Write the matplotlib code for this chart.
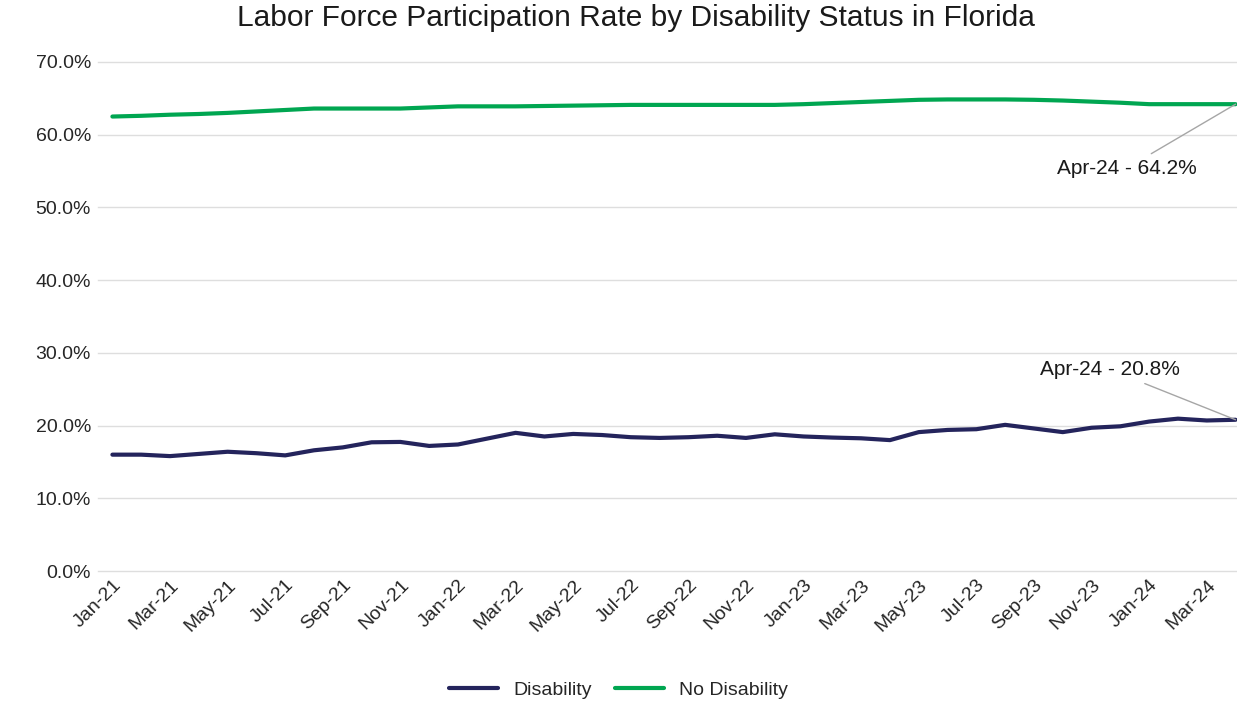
import matplotlib
matplotlib.use("Agg")
import matplotlib.pyplot as plt
from matplotlib.ticker import FuncFormatter, MultipleLocator

months = ["Jan-21","Feb-21","Mar-21","Apr-21","May-21","Jun-21","Jul-21","Aug-21","Sep-21","Oct-21",
          "Nov-21","Dec-21","Jan-22","Feb-22","Mar-22","Apr-22","May-22","Jun-22","Jul-22","Aug-22",
          "Sep-22","Oct-22","Nov-22","Dec-22","Jan-23","Feb-23","Mar-23","Apr-23","May-23","Jun-23",
          "Jul-23","Aug-23","Sep-23","Oct-23","Nov-23","Dec-23","Jan-24","Feb-24","Mar-24","Apr-24"]

disability = [16.0, 16.0, 15.8, 16.1, 16.4, 16.2, 15.9, 16.6, 17.0, 17.7,
              17.75, 17.2, 17.4, 18.2, 19.0, 18.5, 18.85, 18.7, 18.4, 18.3,
              18.4, 18.6, 18.3, 18.8, 18.5, 18.35, 18.25, 18.0, 19.1, 19.4,
              19.5, 20.1, 19.6, 19.1, 19.7, 19.9, 20.55, 20.95, 20.7, 20.8]

no_disability = [62.5, 62.6, 62.75, 62.85, 63.0, 63.2, 63.4, 63.6, 63.6, 63.6,
                 63.6, 63.75, 63.9, 63.9, 63.9, 63.95, 64.0, 64.05, 64.1, 64.1,
                 64.1, 64.1, 64.1, 64.1, 64.2, 64.35, 64.5, 64.65, 64.8, 64.85,
                 64.85, 64.85, 64.8, 64.7, 64.55, 64.4, 64.2, 64.2, 64.2, 64.2]

title = "Labor Force Participation Rate by Disability Status in Florida"
navy = "#24245c"
green = "#00a651"
fam = ["Liberation Sans", "DejaVu Sans"]

fig = plt.figure(figsize=(12.37, 7.04), dpi=100)
ax = fig.add_axes([98/1237, 1 - 571/704, (1237 - 98)/1237, (571 - 62)/704])

x = list(range(len(months)))
ax.plot(x, disability, color=navy, lw=3, label="Disability", solid_capstyle="round", zorder=3)
ax.plot(x, no_disability, color=green, lw=3, label="No Disability", solid_capstyle="round", zorder=3)

ax.set_ylim(0, 70)
ax.set_xlim(-0.5, 39.05)
ax.yaxis.set_major_locator(MultipleLocator(10))
ax.yaxis.set_major_formatter(FuncFormatter(lambda v, p: f"{v:.1f}%"))
ax.grid(axis="y", color="#dedede", lw=1)
for gl in ax.get_ygridlines():
    gl.set_clip_on(False)
ax.set_axisbelow(True)
for s in ax.spines.values():
    s.set_visible(False)
ax.tick_params(axis="both", length=0, labelsize=14, colors="#262626")
ax.tick_params(axis="y", pad=5)
ax.tick_params(axis="x", pad=4)
ax.set_xticks(x[::2])
ax.set_xticklabels(months[::2], rotation=45, ha="right", rotation_mode="anchor")
for lab in ax.get_xticklabels() + ax.get_yticklabels():
    lab.set_fontfamily(fam)

fig.text(636/1237, 1 - 18/704, title, ha="center", va="center", fontsize=21.5,
         family=fam, color="#1a1a1a")

last = len(months) - 1
ann_fam = ["Liberation Sans Narrow", "Liberation Sans", "DejaVu Sans"]
ax.annotate(f"{months[last]} - {no_disability[last]:.1f}%", xy=(last, no_disability[last]),
            xytext=(-28, -46), textcoords="offset points", ha="right", va="center",
            fontsize=15, family=ann_fam, color="#1a1a1a",
            arrowprops=dict(arrowstyle="-", color="#a6a6a6", lw=1, shrinkA=3, shrinkB=0))
ax.annotate(f"{months[last]} - {disability[last]:.1f}%", xy=(last, disability[last]),
            xytext=(-40, 36), textcoords="offset points", ha="right", va="center",
            fontsize=15, family=ann_fam, color="#1a1a1a",
            arrowprops=dict(arrowstyle="-", color="#a6a6a6", lw=1, shrinkA=3, shrinkB=0))

leg = fig.legend(loc="center", bbox_to_anchor=(0.5, 1 - 690/704), ncol=2, frameon=False,
                 handlelength=2.5, columnspacing=1.2,
                 prop={"family": fam, "size": 14})
for t in leg.get_texts():
    t.set_color("#262626")

fig.savefig("out.png", dpi=100)
